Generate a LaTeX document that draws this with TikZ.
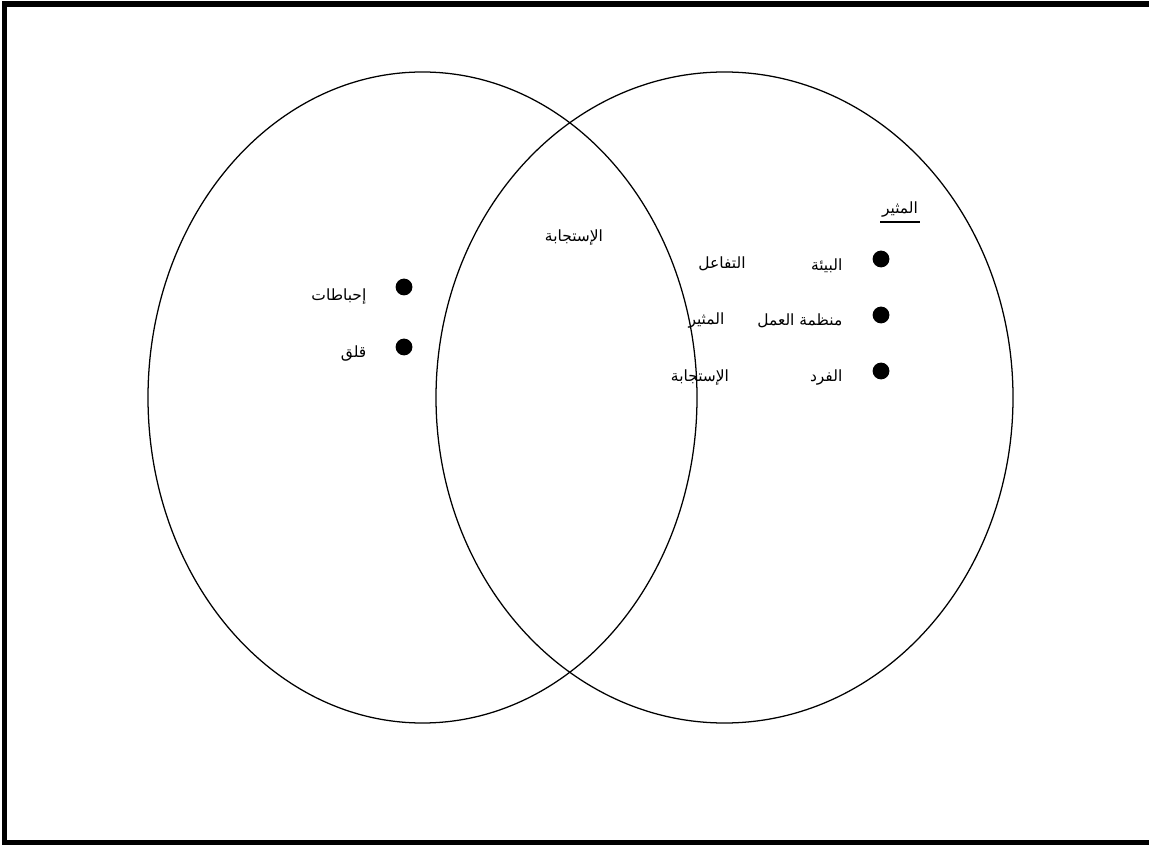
\documentclass[tikz,border=0pt]{standalone}
\usepackage{fontspec}
\usepackage{tikz}
\usetikzlibrary{positioning}
\TeXXeTstate=1
\newfontfamily\arabicfont[Script=Arabic]{DejaVu Sans}
\newcommand{\ar}[1]{\arabicfont\beginR #1\endR}
\tikzset{
    vennring/.style={draw, line width=0.9pt},
    venndot/.style={circle, fill=black, inner sep=0pt, minimum size=0.42cm},
    vennlabel/.style={font=\fontsize{11}{13}\selectfont, inner sep=1pt},
    vennhead/.style={vennlabel},
}

\begin{document}
\begin{tikzpicture}[x=0.025cm, y=-0.025cm]

    \useasboundingbox (0,0) rectangle (1149,845);

    % --- Frame --------------------------------------------------------------------
    \draw[line width=3.6pt] (1149,4) -- (4.5,4) -- (4.5,843) -- (1149,843);

    % --- Circles ------------------------------------------------------------------
    \draw[vennring] (422.5,397.5) ellipse [x radius=274.5, y radius=325.5];
    \draw[vennring] (724.5,397.5) ellipse [x radius=288.5, y radius=325.5];

    % --- Left part ----------------------------------------------------------------
    \node[venndot] (d1) at (404,287) {};
    \node[venndot] (d2) at (404,347) {};
    \node[vennlabel, anchor=east] (ihbat) at (368,297) {\ar{إحباطات}};
    \node[vennlabel, anchor=east] (qalaq) at (368,354) {\ar{قلق}};

    % --- Middle -------------------------------------------------------------------
    \node[vennlabel] (resp) at (574,238) {\ar{الإستجابة}};

    % --- Right part ---------------------------------------------------------------
    \node[vennhead] (stim) at (900,210) {\ar{المثير}};
    \draw[line width=1.2pt] ([yshift=-2pt]stim.south west) -- ([yshift=-2pt]stim.south east);

    \node[venndot] (d3) at (881,259) {};
    \node[venndot] (d4) at (881,315) {};
    \node[venndot] (d5) at (881,371) {};

    \node[vennlabel, anchor=east] (env) at (844,266) {\ar{البيئة}};
    \node[vennlabel, anchor=east] (org) at (844,321) {\ar{منظمة العمل}};
    \node[vennlabel, anchor=east] (ind) at (844,378) {\ar{الفرد}};

    \node[vennlabel] (inter) at (722,264) {\ar{التفاعل}};
    \node[vennlabel, anchor=east] (stim2) at (726,321) {\ar{المثير}};
    \node[vennlabel] (resp2) at (700,378) {\ar{الإستجابة}};

\end{tikzpicture}
\end{document}
